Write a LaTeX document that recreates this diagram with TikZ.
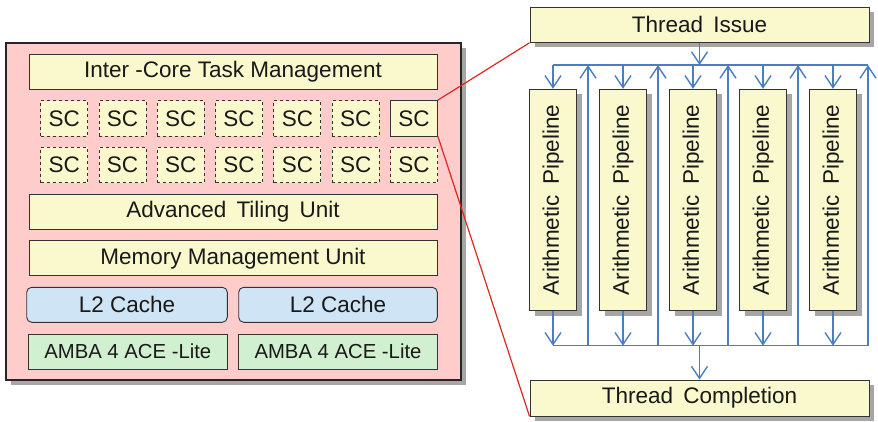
\documentclass[tikz,border=0pt]{standalone}
\usepackage{fontspec}
\setmainfont{Liberation Sans}
\usetikzlibrary{arrows.meta,shadows}
\definecolor{panelpink}{RGB}{255,204,204}
\definecolor{boxyellow}{RGB}{250,248,205}
\definecolor{cacheblue}{RGB}{207,228,244}
\definecolor{ambagreen}{RGB}{208,240,208}
\definecolor{busblue}{RGB}{74,126,196}
\definecolor{linkred}{RGB}{226,38,30}

\begin{document}
\begin{tikzpicture}[x=1pt,y=-1pt,>={Straight Barb[length=12pt,width=16pt]},
  every node/.style={font=\fontsize{22.5}{26}\selectfont,text=black!90,inner sep=0pt},
  widesp/.style={execute at begin node={\spaceskip=0.45em\relax}},
  unit/.style={draw=black!80,line width=0.9pt,fill=boxyellow,minimum height=35pt},
  sc/.style={unit,minimum width=47pt,minimum height=35.5pt},
  ghost/.style={sc,dashed},
  cache/.style={draw=black!80,line width=0.9pt,fill=cacheblue,rounded corners=5pt,minimum height=35pt},
  amba/.style={draw=black!80,line width=0.9pt,fill=ambagreen,minimum height=35pt,font=\fontsize{20.3}{24}\selectfont},
  shade/.style={drop shadow={shadow xshift=5pt,shadow yshift=-5pt,fill=black,opacity=.35}},
  flow/.style={->,busblue,line width=1.4pt}]
\useasboundingbox (0,0) rectangle (878,422);

% GPU core group
\node[draw=black!85,line width=1.4pt,fill=panelpink,shade,minimum width=455pt,minimum height=337pt] (gpu) at (233.5,211.5) {};
\node[unit,minimum width=408pt] (ictm) at (233,71.5) {Inter -Core Task Management};
\foreach \c in {1,...,6} {
  \node[ghost] (sca\c) at (5.9+58.3*\c,118.3) {SC};
}
\node[sc] (sca7) at (414,118.3) {SC};
\foreach \c in {1,...,7} {
  \node[ghost] (scb\c) at (5.9+58.3*\c,165) {SC};
}
\node[unit,widesp,minimum width=408pt] (atu) at (233,211.7) {Advanced Tiling Unit};
\node[unit,minimum width=408pt] (mmu) at (233,258.3) {Memory Management Unit};
\node[cache,minimum width=200.6pt] (lca) at (127,304.8) {L2 Cache};
\node[cache,minimum width=198.6pt] (lcb) at (338,304.8) {L2 Cache};
\node[amba,minimum width=199pt] (aca) at (127.8,351.7) {AMBA 4 ACE -Lite};
\node[amba,minimum width=198.6pt] (acb) at (338,351.7) {AMBA 4 ACE -Lite};

% shader core detail
\node[unit,widesp,shade,minimum width=339pt] (issue) at (699.5,24.8) {Thread Issue};
\node[unit,widesp,shade,minimum width=339pt,minimum height=36pt] (done) at (699.5,398) {Thread Completion};
\coordinate (topbus) at (0,65);
\coordinate (botbus) at (0,345.7);
\foreach \p in {1,...,5} {
  \node[unit,shade,minimum width=47pt,minimum height=221.5pt,
        label={[rotate=90,widesp]center:Arithmetic Pipeline}] (pipe\p) at (483+70*\p,200) {};
  \coordinate (lo\p) at (518+70*\p,345.7);
  \coordinate (hi\p) at (518+70*\p,65);
  \draw[flow] (pipe\p.north |- topbus) -- (pipe\p.north);
  \draw[flow] (pipe\p.south) -- (pipe\p.south |- botbus);
  \draw[flow] (lo\p) -- (hi\p);
}
\draw[busblue,line width=1.4pt] (pipe1.north |- topbus) -- (hi5);
\draw[busblue,line width=1.4pt] (pipe1.south |- botbus) -- (lo5);
\draw[flow] (issue.south) -- (issue.south |- topbus);
\draw[flow] (done.north |- botbus) -- (done.north);

% zoom lines
\draw[linkred,line width=1.2pt] (sca7.north east) -- (issue.south west);
\draw[linkred,line width=1.2pt] (sca7.south east) -- (done.south west);
\end{tikzpicture}
\end{document}
